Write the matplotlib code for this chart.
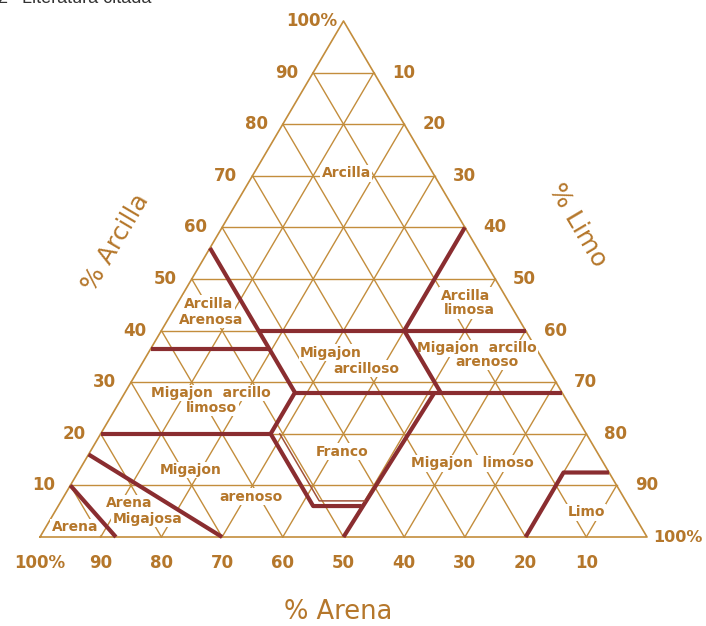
import matplotlib.pyplot as plt

# ternary soil texture chart, all points are (sand %, clay %) and silt is the rest
grid_steps = [10, 20, 30, 40, 50, 60, 70, 80, 90]
clay_ticks = ['10', '20', '30', '40', '50', '60', '70', '80', '90', '100%']
silt_ticks = ['10', '20', '30', '40', '50', '60', '70', '80', '90', '100%']
sand_ticks = ['10', '20', '30', '40', '50', '60', '70', '80', '90', '100%']
tick_values = [10, 20, 30, 40, 50, 60, 70, 80, 90, 100]

# class boundaries (thick lines)
boundaries = [
    [(44, 56), (44, 28), (52, 20), (52, 6), (44, 6)],
    [(44, 40), (0, 40)],
    [(44, 28), (0, 28)],
    [(0, 60), (20, 40), (20, 28)],
    [(50, 0), (21, 28)],
    [(63.5, 36.5), (44, 36.5)],
    [(80, 20), (52, 20)],
    [(84, 16), (70, 0)],
    [(90, 10), (87.5, 0)],
    [(20, 0), (7.5, 12.5), (0, 12.5)],
]
# second, thinner trace of the loam boundary seen in the scan
double_trace = [(50.5, 20), (50.5, 7), (43, 7)]

# class names, one entry per printed line
class_lines = ['Arcilla', 'Arcilla', 'Arenosa', 'Arcilla', 'limosa',
               'Migajon', 'arcilloso', 'Migajon  arcillo', 'arenoso',
               'Migajon  arcillo', 'limoso', 'Franco', 'Migajon  limoso',
               'Migajon', 'arenoso', 'Arena', 'Migajosa', 'Arena', 'Limo']
class_spots = [(14.3, 70.5), (49.6, 45.2), (50.8, 42.1), (6.5, 46.8), (7.3, 43.9),
               (34.2, 35.7), (30.0, 32.6), (9.7, 36.6), (9.4, 33.9),
               (57.9, 27.9), (59.2, 25.0), (42.0, 16.5), (21.7, 14.3),
               (68.6, 13.0), (61.4, 7.8), (82.0, 6.6), (80.5, 3.5), (93.3, 1.9), (7.6, 4.8)]

GRID = '#c38d3c'
TEXT = '#b5772b'
THICK = '#8a2d30'


def to_xy(sand, clay):
    # silt + clay/2 across, clay up
    return 100 - sand - clay / 2.0, clay


def draw(pts, **kw):
    xs, ys = zip(*[to_xy(s, c) for s, c in pts])
    ax.plot(xs, ys, **kw)


fig = plt.figure(figsize=(7.06, 6.26), dpi=100)
ax = fig.add_axes([0, 0, 1, 1])
ax.set_xlim(-40 / 6.07, 666 / 6.07)
ax.set_ylim(-89 / 5.16, 537 / 5.16)
ax.axis('off')

# outline and grid
draw([(100, 0), (0, 0), (0, 100), (100, 0)], color=GRID, lw=1.2, zorder=1)
for v in grid_steps:
    draw([(100 - v, v), (0, v)], color=GRID, lw=1.0, zorder=1)      # clay
    draw([(v, 0), (v, 100 - v)], color=GRID, lw=1.0, zorder=1)      # sand
    draw([(100 - v, 0), (0, 100 - v)], color=GRID, lw=1.0, zorder=1)  # silt

for line, (s, c) in zip(class_lines, class_spots):
    x, y = to_xy(s, c)
    ax.text(x, y, line, ha='center', va='center', fontsize=10, fontweight='bold',
            color=TEXT, zorder=2,
            bbox=dict(boxstyle='square,pad=0.1', fc='white', ec='none'))

for pts in boundaries:
    draw(pts, color=THICK, lw=3.0, solid_capstyle='butt', zorder=3)
draw(double_trace, color='#a0523a', lw=1.1, zorder=3)

# tick labels
for v, lab in zip(tick_values, clay_ticks):
    gap = -6 if lab == '100%' else -15
    ax.annotate(lab, to_xy(100 - v, v), xytext=(gap * 0.72, 0), textcoords='offset points',
                ha='right', va='center', fontsize=12, fontweight='bold', color=TEXT)
for v, lab in zip(tick_values, silt_ticks):
    gap = 6 if lab == '100%' else 18
    ax.annotate(lab, to_xy(0, 100 - v), xytext=(gap * 0.72, 0), textcoords='offset points',
                ha='left', va='center', fontsize=11.5 if lab == '100%' else 12,
                fontweight='bold', color=TEXT)
for v, lab in zip(tick_values, sand_ticks):
    ax.annotate(lab, to_xy(v, 0), xytext=(0, -26 * 0.72), textcoords='offset points',
                ha='center', va='center', fontsize=12, fontweight='bold', color=TEXT)

ax.text(12.4, 57.0, '% Arcilla', rotation=59.4, rotation_mode='anchor',
        ha='center', va='center', fontsize=18, color=TEXT)
ax.text(88.6, 60.5, '% Limo', rotation=-59.4, rotation_mode='anchor',
        ha='center', va='center', fontsize=18, color=TEXT)
ax.text(49.1, -14.6, '% Arena', ha='center', va='center', fontsize=18.5, color=TEXT)

# page header cut off by the scan
fig.text(-0.004, 1 - 3 / 626, '2', fontsize=13, color='#333333', va='baseline',
         family='Liberation Sans')
fig.text(22 / 706, 1 - 3 / 626, 'Literatura citada', fontsize=13, color='#333333',
         va='baseline', family='Liberation Sans')

fig.savefig('out.png', dpi=100, facecolor='white')
